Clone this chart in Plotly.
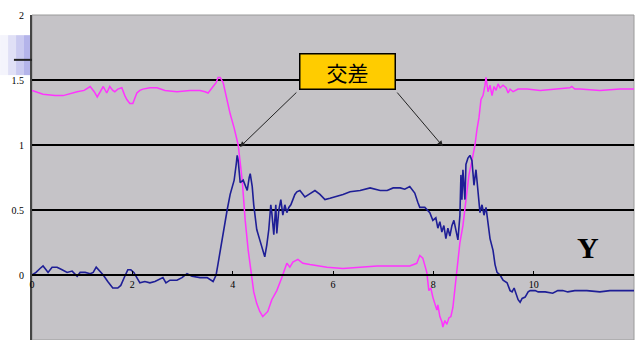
import plotly.graph_objects as go

# ---- data ----
pink_x = [0.00, 0.22, 0.46, 0.62, 0.90, 1.04, 1.16, 1.24, 1.30, 1.36, 1.42, 1.49, 1.55, 1.61, 1.65, 1.71,
          1.79, 1.85, 1.89, 1.95, 2.01, 2.05, 2.09, 2.15, 2.21, 2.35, 2.49, 2.65, 2.89, 3.15, 3.35, 3.45,
          3.51, 3.61, 3.67, 3.71, 3.75, 3.81, 3.87, 3.95, 4.03, 4.11, 4.19, 4.25, 4.31, 4.37, 4.42, 4.48,
          4.54, 4.60, 4.70, 4.78, 4.84, 4.88, 4.98, 5.04, 5.08, 5.14, 5.20, 5.30, 5.40, 5.54, 5.88, 6.20,
          6.54, 6.88, 7.20, 7.53, 7.67, 7.73, 7.79, 7.87, 7.91, 7.95, 7.99, 8.03, 8.07, 8.09, 8.13, 8.17,
          8.19, 8.23, 8.27, 8.31, 8.35, 8.39, 8.43, 8.47, 8.53, 8.59, 8.65, 8.71, 8.77, 8.83, 8.87, 8.91,
          8.95, 8.99, 9.03, 9.05, 9.09, 9.13, 9.17, 9.21, 9.25, 9.29, 9.33, 9.39, 9.45, 9.49, 9.53, 9.59,
          9.69, 9.87, 10.13, 10.42, 10.72, 10.76, 10.82, 10.92, 11.32, 11.72, 12.00]
pink_y = [1.42, 1.39, 1.38, 1.38, 1.41, 1.42, 1.45, 1.41, 1.37, 1.41, 1.45, 1.40, 1.45, 1.42, 1.41, 1.43,
          1.44, 1.38, 1.35, 1.32, 1.32, 1.36, 1.40, 1.42, 1.43, 1.44, 1.44, 1.42, 1.41, 1.42, 1.42, 1.41,
          1.40, 1.45, 1.48, 1.52, 1.52, 1.48, 1.37, 1.24, 1.13, 1.00, 0.73, 0.42, 0.19, 0.00, -0.13, -0.22,
          -0.28, -0.32, -0.28, -0.19, -0.14, -0.12, -0.02, 0.04, 0.09, 0.06, 0.10, 0.12, 0.09, 0.08, 0.06, 0.05,
          0.06, 0.07, 0.07, 0.07, 0.09, 0.15, 0.13, 0.02, -0.12, -0.10, -0.17, -0.22, -0.27, -0.23, -0.32, -0.36,
          -0.40, -0.35, -0.38, -0.33, -0.32, -0.25, -0.12, 0.04, 0.25, 0.38, 0.58, 0.77, 0.88, 1.00, 1.12, 1.21,
          1.35, 1.38, 1.46, 1.52, 1.41, 1.46, 1.38, 1.45, 1.42, 1.47, 1.44, 1.46, 1.44, 1.40, 1.43, 1.41,
          1.43, 1.43, 1.42, 1.43, 1.44, 1.45, 1.43, 1.43, 1.42, 1.43, 1.43]

blue_x = [0.00, 0.08, 0.16, 0.22, 0.28, 0.32, 0.40, 0.50, 0.60, 0.70, 0.80, 0.90, 0.96, 1.06, 1.16, 1.22,
          1.28, 1.36, 1.42, 1.51, 1.61, 1.71, 1.77, 1.85, 1.91, 1.97, 2.03, 2.09, 2.15, 2.25, 2.35, 2.45,
          2.55, 2.61, 2.67, 2.75, 2.89, 2.99, 3.09, 3.19, 3.35, 3.49, 3.61, 3.67, 3.71, 3.77, 3.83, 3.89,
          3.95, 3.99, 4.03, 4.07, 4.09, 4.11, 4.15, 4.21, 4.25, 4.29, 4.33, 4.35, 4.37, 4.39, 4.42, 4.48,
          4.54, 4.60, 4.64, 4.68, 4.72, 4.76, 4.78, 4.82, 4.86, 4.88, 4.92, 4.96, 5.00, 5.04, 5.08, 5.12,
          5.16, 5.20, 5.24, 5.28, 5.34, 5.38, 5.44, 5.52, 5.64, 5.74, 5.84, 5.94, 6.04, 6.20, 6.34, 6.54,
          6.74, 6.94, 7.08, 7.20, 7.34, 7.43, 7.53, 7.59, 7.63, 7.69, 7.73, 7.83, 7.93, 7.99, 8.05, 8.09,
          8.13, 8.17, 8.21, 8.25, 8.29, 8.33, 8.37, 8.41, 8.45, 8.49, 8.53, 8.55, 8.57, 8.59, 8.63, 8.65,
          8.69, 8.73, 8.77, 8.81, 8.85, 8.89, 8.93, 8.97, 9.01, 9.05, 9.09, 9.13, 9.19, 9.23, 9.27, 9.33,
          9.39, 9.47, 9.53, 9.57, 9.61, 9.65, 9.69, 9.73, 9.77, 9.83, 9.89, 9.93, 10.03, 10.09, 10.23, 10.38,
          10.48, 10.58, 10.68, 10.82, 11.06, 11.32, 11.52, 11.72, 12.00]
blue_y = [0.00, 0.02, 0.05, 0.07, 0.04, 0.02, 0.06, 0.06, 0.04, 0.02, 0.03, -0.01, 0.02, 0.02, 0.01, 0.02,
          0.06, 0.03, 0.00, -0.05, -0.10, -0.10, -0.08, -0.01, 0.04, 0.04, 0.02, -0.02, -0.06, -0.05, -0.06, -0.05,
          -0.03, -0.02, -0.06, -0.04, -0.04, -0.02, 0.01, -0.01, -0.02, -0.02, -0.05, 0.00, 0.09, 0.23, 0.38, 0.50,
          0.62, 0.68, 0.73, 0.85, 0.92, 0.88, 0.71, 0.73, 0.69, 0.65, 0.75, 0.78, 0.73, 0.68, 0.54, 0.35,
          0.27, 0.19, 0.14, 0.23, 0.35, 0.54, 0.48, 0.31, 0.54, 0.32, 0.50, 0.58, 0.46, 0.54, 0.48, 0.52,
          0.54, 0.58, 0.62, 0.64, 0.65, 0.63, 0.60, 0.62, 0.65, 0.62, 0.58, 0.59, 0.60, 0.62, 0.64, 0.65,
          0.67, 0.65, 0.65, 0.67, 0.67, 0.66, 0.68, 0.65, 0.63, 0.56, 0.52, 0.52, 0.48, 0.42, 0.44, 0.36,
          0.41, 0.33, 0.38, 0.28, 0.36, 0.30, 0.38, 0.42, 0.35, 0.27, 0.46, 0.77, 0.58, 0.81, 0.58, 0.85,
          0.90, 0.92, 0.88, 0.69, 0.81, 0.65, 0.48, 0.54, 0.46, 0.52, 0.38, 0.28, 0.19, 0.08, 0.02, 0.00,
          -0.04, -0.06, -0.12, -0.13, -0.10, -0.15, -0.19, -0.21, -0.18, -0.17, -0.13, -0.12, -0.12, -0.13, -0.13, -0.14,
          -0.12, -0.12, -0.13, -0.12, -0.12, -0.13, -0.12, -0.12, -0.12]

x_ticks = [0, 2, 4, 6, 8, 10, 12]
y_ticks = [-0.5, 0, 0.5, 1, 1.5, 2]
callout_text = "交差"
callout_pos = (6.28, 1.565)
arrow_tails = [(5.30, 1.415), (7.255, 1.415)]
arrow_heads = [(4.145, 0.985), (8.19, 0.99)]
side_label = "Y"
side_label_pos = (11.08, 0.21)

fig = go.Figure()
fig.add_trace(go.Scatter(x=pink_x, y=pink_y, mode="lines",
                         line=dict(color="#FF33FF", width=1.5), showlegend=False))
fig.add_trace(go.Scatter(x=blue_x, y=blue_y, mode="lines",
                         line=dict(color="#1E1E96", width=1.6), showlegend=False))

# callout box
fig.add_annotation(x=callout_pos[0], y=callout_pos[1], xref="x", yref="y",
                   text=callout_text, showarrow=False,
                   font=dict(family="Noto Sans CJK JP", size=21, color="black"),
                   bgcolor="#FFCC00", bordercolor="black", borderwidth=1.5,
                   width=92, height=32, borderpad=1)
for (tx, ty), (hx, hy) in zip(arrow_tails, arrow_heads):
    fig.add_annotation(x=hx, y=hy, ax=tx, ay=ty, xref="x", yref="y", axref="x", ayref="y",
                       text="", showarrow=True, arrowhead=2, arrowsize=1.1,
                       arrowwidth=1, arrowcolor="#222222")

fig.add_annotation(x=side_label_pos[0], y=side_label_pos[1], xref="x", yref="y",
                   text="<b>%s</b>" % side_label, showarrow=False,
                   font=dict(family="Liberation Serif", size=30, color="black"))

# left decorative gradient strip
strip_cols = ["#F4F4FC", "#E0E0F6", "#CACAF0", "#B4B4EA"]
for i, c in enumerate(strip_cols):
    fig.add_shape(type="rect", xref="paper", yref="paper",
                  x0=-0.053 + i * 0.01325, x1=-0.053 + (i + 1) * 0.01325,
                  y0=0.815, y1=0.938, fillcolor=c, line_width=0, layer="below")
fig.add_shape(type="line", xref="paper", yref="paper", x0=-0.03, x1=0, y0=0.862, y1=0.862,
              line=dict(color="#222222", width=2))
# plot frame (top/right grey)
fig.add_shape(type="rect", xref="paper", yref="paper", x0=0, x1=1, y0=0, y1=1,
              line=dict(color="#9A9A9A", width=1), layer="below")

fig.update_layout(
    width=636, height=340,
    margin=dict(l=32, r=2, t=15, b=0, autoexpand=False),
    paper_bgcolor="white", plot_bgcolor="#C5C3C7",
    xaxis=dict(range=[0, 12], tickvals=x_ticks, showgrid=False, zeroline=False, automargin=False,
               anchor="free", position=0.2, showline=True, linecolor="black", linewidth=2,
               ticks="inside", ticklen=3, tickcolor="black",
               tickfont=dict(family="Liberation Serif", size=10, color="black")),
    yaxis=dict(range=[-0.5, 2], tickvals=y_ticks, showgrid=True, gridcolor="black", gridwidth=2,
               zeroline=False, showline=True, linecolor="#444444", linewidth=2, automargin=False,
               ticks="", ticklabelstandoff=4,
               tickfont=dict(family="Liberation Serif", size=10, color="black")),
)

fig.write_html("out.html", config={"displayModeBar": False},
               post_script="document.body.style.margin='0';document.body.style.overflow='hidden';")
